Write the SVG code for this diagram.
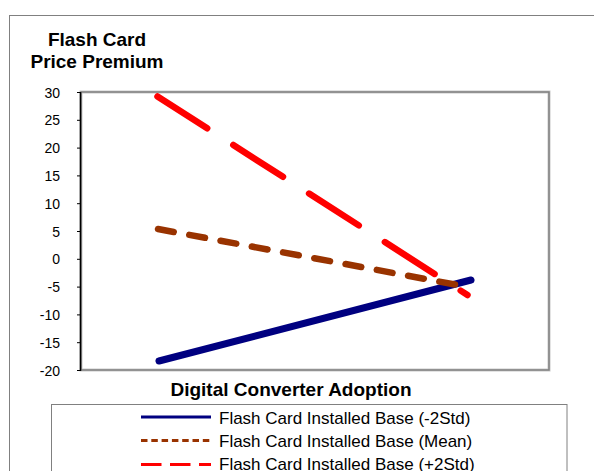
<svg xmlns="http://www.w3.org/2000/svg" width="594" height="471" viewBox="0 0 594 471">
<style>
.t{font-family:"Liberation Sans",Arial,sans-serif;fill:#000}
.title{font-size:19px;font-weight:bold;text-anchor:middle}
.ylab{font-size:14px;text-anchor:end}
.leg{font-size:17px}
.series{fill:none;stroke-linecap:round;stroke-linejoin:round}
</style>
<rect width="594" height="471" fill="#fff"/>
<rect x="9.5" y="15.5" width="600" height="480" fill="none" stroke="#808080" stroke-width="1"/>
<g id="title-y">
<text class="t title" x="97" y="46">Flash Card</text>
<text class="t title" x="97" y="68">Price Premium</text>
</g>
<g id="plot-area">
<rect x="81" y="92" width="468" height="278" fill="#fff" stroke="#c8c8c8" stroke-width="3"/>
<rect x="81" y="92" width="468" height="278" fill="none" stroke="#808080" stroke-width="1.5"/>
<line x1="80.5" y1="92" x2="80.5" y2="371" stroke="#000" stroke-width="1.5"/>
<g stroke="#000" stroke-width="1">
<line x1="77" y1="92.5" x2="80" y2="92.5"/>
<line x1="77" y1="120.3" x2="80" y2="120.3"/>
<line x1="77" y1="148.1" x2="80" y2="148.1"/>
<line x1="77" y1="175.9" x2="80" y2="175.9"/>
<line x1="77" y1="203.7" x2="80" y2="203.7"/>
<line x1="77" y1="231.5" x2="80" y2="231.5"/>
<line x1="77" y1="259.3" x2="80" y2="259.3"/>
<line x1="77" y1="287.1" x2="80" y2="287.1"/>
<line x1="77" y1="314.9" x2="80" y2="314.9"/>
<line x1="77" y1="342.7" x2="80" y2="342.7"/>
<line x1="77" y1="370.5" x2="80" y2="370.5"/>
</g>
</g>
<g id="y-axis-labels">
<text class="t ylab" x="60" y="97.5">30</text>
<text class="t ylab" x="60" y="125.3">25</text>
<text class="t ylab" x="60" y="153.1">20</text>
<text class="t ylab" x="60" y="180.9">15</text>
<text class="t ylab" x="60" y="208.7">10</text>
<text class="t ylab" x="60" y="236.5">5</text>
<text class="t ylab" x="60" y="264.3">0</text>
<text class="t ylab" x="60" y="292.1">-5</text>
<text class="t ylab" x="60" y="319.9">-10</text>
<text class="t ylab" x="60" y="347.7">-15</text>
<text class="t ylab" x="60" y="375.5">-20</text>
</g>
<g id="connectors">
<line id="s-minus2std" class="series" x1="159" y1="361" x2="471" y2="280" stroke="#000080" stroke-width="7"/>
<line id="s-mean" class="series" x1="158" y1="229" x2="465" y2="286.4" stroke="#993300" stroke-width="6.5" stroke-dasharray="16 15.8"/>
<line id="s-plus2std" class="series" x1="157.5" y1="96.5" x2="467.5" y2="295" stroke="#ff0000" stroke-width="6.5" stroke-dasharray="59 31"/>
</g>
<g id="title-x">
<text class="t title" x="291" y="396">Digital Converter Adoption</text>
</g>
<g id="legend">
<rect x="51.5" y="404.5" width="515.5" height="80" fill="#fff" stroke="#808080" stroke-width="1"/>
<line x1="141" y1="417" x2="211" y2="417" stroke="#000080" stroke-width="3"/>
<line x1="141" y1="440.5" x2="211" y2="440.5" stroke="#993300" stroke-width="3" stroke-dasharray="6.5 3.8"/>
<line x1="141" y1="464.5" x2="211" y2="464.5" stroke="#ff0000" stroke-width="3" stroke-dasharray="20.5 8.5"/>
<text class="t leg" x="219" y="423.5">Flash Card Installed Base (-2Std)</text>
<text class="t leg" x="219" y="446.8">Flash Card Installed Base (Mean)</text>
<text class="t leg" x="219" y="469.8">Flash Card Installed Base (+2Std)</text>
</g>
</svg>
